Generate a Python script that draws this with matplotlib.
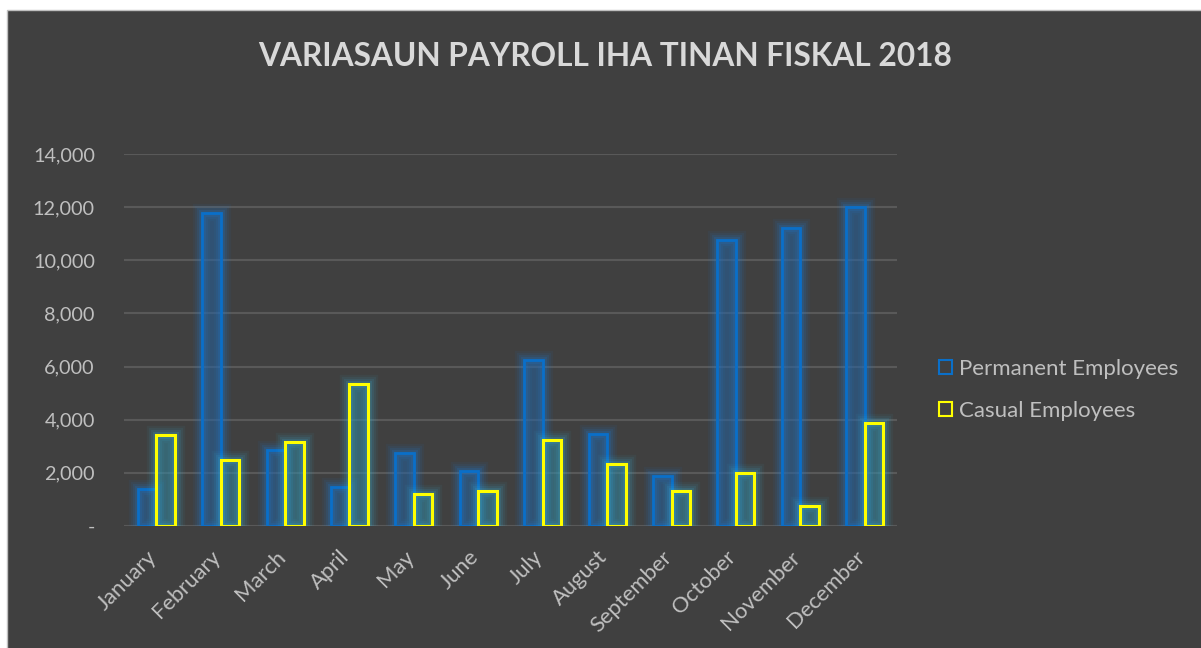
import matplotlib
matplotlib.use("Agg")
import matplotlib.pyplot as plt
import matplotlib.patheffects as pe
import matplotlib.transforms as mtrans
from matplotlib.patches import Rectangle
from matplotlib.ticker import FuncFormatter
import numpy as np

months = ["January", "February", "March", "April", "May", "June", "July",
          "August", "September", "October", "November", "December"]
permanent = [1400, 11790, 2870, 1450, 2760, 2080, 6240, 3450, 1890, 10750, 11210, 12000]
casual = [3430, 2480, 3150, 5340, 1210, 1320, 3230, 2330, 1300, 2000, 750, 3880]
series_names = ["Permanent Employees", "Casual Employees"]
title = "VARIASAUN PAYROLL IHA TINAN FISKAL 2018"

BG = "#404040"
TXT = "#bfbfbf"
FONT = ["Lato", "DejaVu Sans"]

W, H = 1201, 648
fig = plt.figure(figsize=(W / 100, H / 100), dpi=100)
fig.patch.set_facecolor("white")
# chart area background with thin light border
bg = Rectangle((7 / W, -0.01), 1.01 - 7 / W, 1.01 - 10 / H, transform=fig.transFigure,
               facecolor=BG, edgecolor="#bfbfbf", linewidth=1.0, zorder=-10)
fig.add_artist(bg)

ax = fig.add_axes([124 / W, 122 / H, (897 - 124) / W, (526 - 154) / H])
ax.set_facecolor("none")
x = np.arange(len(months))
bw = 0.287

def glow(color):
    effects = []
    for lw, a in [(14, 0.06), (11, 0.08), (8, 0.11), (5, 0.16)]:
        effects.append(pe.Stroke(linewidth=lw, foreground=color, alpha=a))
    effects.append(pe.Normal())
    return effects

b1 = ax.bar(x - bw / 2, permanent, width=bw, facecolor=(0.15, 0.4, 0.65, 0.2),
            edgecolor="#0a6fc9", linewidth=2.0, zorder=3, label=series_names[0])
for r in b1:
    r.set_path_effects(glow("#1a80e0"))
b2 = ax.bar(x + bw / 2, casual, width=bw, facecolor=(0.2, 0.55, 0.65, 0.2),
            edgecolor="#ffff00", linewidth=2.2, zorder=4, label=series_names[1])
for r in b2:
    r.set_path_effects(glow("#38b0d8"))

ax.set_xlim(-0.5, len(months) - 0.5)
ax.set_ylim(0, 14000)
ax.set_yticks(np.arange(0, 14001, 2000))
ax.yaxis.set_major_formatter(FuncFormatter(lambda v, p: "-" if v == 0 else f"{int(v):,}"))
ax.grid(axis="y", color="#595959", linewidth=1.5, zorder=0)
ax.set_axisbelow(True)
for s in ax.spines.values():
    s.set_visible(False)
ax.tick_params(length=0, colors=TXT, labelsize=14.3, pad=21)
ax.tick_params(axis="x", pad=0)
ax.set_xticks(x)
ax.set_xticklabels(months, rotation=45, ha="right", rotation_mode="anchor",
                   family=FONT, color=TXT, fontsize=15.8)
offset = mtrans.ScaledTranslation(-10 / 100, -21 / 100, fig.dpi_scale_trans)
for lab in ax.get_xticklabels():
    lab.set_transform(lab.get_transform() + offset)
for lab in ax.get_yticklabels():
    lab.set_family(FONT)

fig.text(605 / W, 1 - 56 / H, title, ha="center", va="center", color="#d9d9d9",
         fontsize=22.8, fontweight="bold", family=FONT)

leg = fig.legend(handles=[b1, b2], labels=series_names, loc="center left",
                 bbox_to_anchor=(919 / W, 1 - 390 / H), frameon=False,
                 prop={"family": FONT, "size": 16}, labelcolor=TXT,
                 handlelength=0.6, handleheight=0.6, handletextpad=0.3, labelspacing=1.0)
for h in leg.legend_handles:
    h.set_path_effects([])
    h.set_facecolor("none")
    h.set_linewidth(1.5)

fig.savefig("out.png", dpi=100, facecolor=fig.get_facecolor())
